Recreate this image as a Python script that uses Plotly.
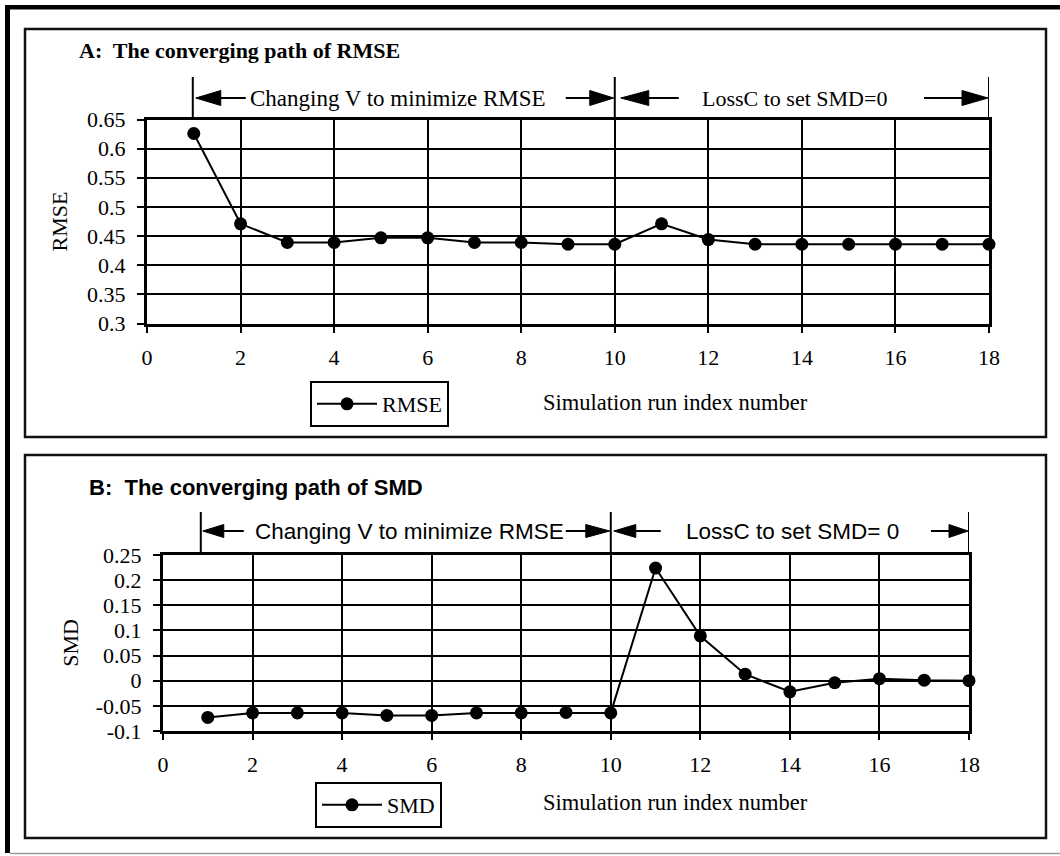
import plotly.graph_objects as go

W, H = 1060, 856

# ---------------- data ----------------
runs = list(range(1, 19))
rmse = [0.626, 0.471, 0.439, 0.439, 0.447, 0.447, 0.439, 0.439, 0.436,
        0.436, 0.471, 0.444, 0.436, 0.436, 0.436, 0.436, 0.436, 0.436]
smd = [-0.073, -0.064, -0.064, -0.064, -0.069, -0.069, -0.064, -0.064, -0.063,
       -0.064, 0.224, 0.089, 0.013, -0.022, -0.004, 0.004, 0.001, 0.0]

x_ticks = [0, 2, 4, 6, 8, 10, 12, 14, 16, 18]
x_tick_labels = ["0", "2", "4", "6", "8", "10", "12", "14", "16", "18"]
rmse_ticks = [0.3, 0.35, 0.4, 0.45, 0.5, 0.55, 0.6, 0.65]
rmse_tick_labels = ["0.3", "0.35", "0.4", "0.45", "0.5", "0.55", "0.6", "0.65"]
smd_ticks = [-0.1, -0.05, 0, 0.05, 0.1, 0.15, 0.2, 0.25]
smd_tick_labels = ["-0.1", "-0.05", "0", "0.05", "0.1", "0.15", "0.2", "0.25"]

SERIF = "Liberation Serif, Times New Roman, serif"
SANS = "Liberation Sans, Arial, sans-serif"


def fx(p):
    return p / W


def fy(p):
    return 1 - p / H


fig = go.Figure()

fig.add_trace(go.Scatter(
    x=runs, y=rmse, name="RMSE", mode="lines+markers",
    line=dict(color="black", width=2), marker=dict(color="black", size=13),
    cliponaxis=False, xaxis="x", yaxis="y", legend="legend"))
fig.add_trace(go.Scatter(
    x=runs, y=smd, name="SMD", mode="lines+markers",
    line=dict(color="black", width=2), marker=dict(color="black", size=13),
    cliponaxis=False, xaxis="x2", yaxis="y2", legend="legend2"))

common_x = dict(range=[0, 18], tickmode="array", tickvals=x_ticks, ticktext=x_tick_labels,
                ticks="outside", ticklen=6, tickwidth=2, tickcolor="black",
                showgrid=True, gridcolor="black", gridwidth=2,
                showline=True, linecolor="black", linewidth=3, mirror=True,
                zeroline=False, tickfont=dict(family=SERIF, size=22, color="black"),
                ticklabelstandoff=6, fixedrange=True, automargin=False)
common_y = dict(tickmode="array", ticks="outside", ticklen=7, tickwidth=2, tickcolor="black",
                showgrid=True, gridcolor="black", gridwidth=2,
                showline=True, linecolor="black", linewidth=3, mirror=True,
                zeroline=False, tickfont=dict(family=SERIF, size=22, color="black"),
                ticklabelstandoff=7, fixedrange=True, automargin=False)

fig.update_layout(
    width=W, height=H, margin=dict(l=0, r=0, t=0, b=0, pad=0, autoexpand=False),
    paper_bgcolor="white", plot_bgcolor="white",
    xaxis=dict(domain=[fx(147), fx(989)], anchor="y", **common_x),
    yaxis=dict(domain=[fy(323.5), fy(119.5)], anchor="x", range=[0.3, 0.65],
               tickvals=rmse_ticks, ticktext=rmse_tick_labels,
               title=dict(text="RMSE", font=dict(family=SERIF, size=22, color="black"), standoff=14),
               **common_y),
    xaxis2=dict(domain=[fx(163), fx(969)], anchor="y2", **common_x),
    yaxis2=dict(domain=[fy(731), fy(555)], anchor="x2", range=[-0.1, 0.25],
                tickvals=smd_ticks, ticktext=smd_tick_labels,
                title=dict(text="SMD", font=dict(family=SERIF, size=22, color="black"), standoff=12),
                **common_y),
    legend=dict(x=fx(310), y=fy(381), xanchor="left", yanchor="top", itemwidth=60,
                bordercolor="black", borderwidth=2, bgcolor="white",
                font=dict(family=SERIF, size=22, color="black")),
    legend2=dict(x=fx(315), y=fy(782), xanchor="left", yanchor="top", itemwidth=60,
                 bordercolor="black", borderwidth=2, bgcolor="white",
                 font=dict(family=SERIF, size=22, color="black")),
    showlegend=True,
)

shapes = []
# outer frame
shapes.append(dict(type="rect", xref="paper", yref="paper", x0=fx(5), x1=fx(1062), y0=fy(5), y1=fy(9.5),
                   fillcolor="black", opacity=1, line=dict(width=0), layer="above"))
shapes.append(dict(type="rect", xref="paper", yref="paper", x0=fx(5), x1=fx(10), y0=fy(5), y1=fy(853),
                   fillcolor="black", opacity=1, line=dict(width=0), layer="above"))
shapes.append(dict(type="line", xref="paper", yref="paper", x0=fx(10), x1=fx(1060), y0=fy(853.5), y1=fy(853.5),
                   opacity=1, line=dict(color="#9a9a9a", width=1.5), layer="above"))
# panel boxes
shapes.append(dict(type="rect", xref="paper", yref="paper", x0=fx(25), x1=fx(1046), y0=fy(29), y1=fy(437),
                   fillcolor="rgba(0,0,0,0)", opacity=1, line=dict(color="#111", width=2.5), layer="below"))
shapes.append(dict(type="rect", xref="paper", yref="paper", x0=fx(25), x1=fx(1046), y0=fy(455), y1=fy(838),
                   fillcolor="rgba(0,0,0,0)", opacity=1, line=dict(color="#111", width=2.5), layer="below"))


def bar(xr, xval, off, ytop, ybot):
    shapes.append(dict(type="line", xref=xr, xsizemode="pixel", xanchor=xval, x0=off, x1=off,
                       yref="paper", y0=fy(ytop), y1=fy(ybot), opacity=1,
                       line=dict(color="black", width=2)))


def seg(xr, xval, a, b, yp):
    shapes.append(dict(type="line", xref=xr, xsizemode="pixel", xanchor=xval, x0=a, x1=b,
                       yref="paper", y0=fy(yp), y1=fy(yp), opacity=1,
                       line=dict(color="black", width=2)))


def head(xr, xval, tip, base, hh, yp):
    shapes.append(dict(type="path", xref=xr, xsizemode="pixel", xanchor=xval,
                       yref="paper", ysizemode="pixel", yanchor=fy(yp),
                       path=f"M {tip},0 L {base},{hh} L {base},{-hh} Z", opacity=1,
                       fillcolor="black", line=dict(color="black", width=1)))


# panel A annotation arrows
yA = 98
for xv, off in [(1, -1), (10, 0), (18, 0)]:
    bar("x", xv, off, 77, 118)
head("x", 1, 2, 27, 7.5, yA); seg("x", 1, 25, 52, yA)
seg("x", 10, -49, -24, yA); head("x", 10, -1, -25, 7.5, yA)
head("x", 10, 6, 34, 7.5, yA); seg("x", 10, 32, 64, yA)
seg("x", 18, -65, -25, yA); head("x", 18, -1, -27, 7.5, yA)

# panel B annotation arrows
yB = 531
for xv, off in [(1, -7), (10, 0), (18, 0)]:
    bar("x2", xv, off, 512, 553)
head("x2", 1, -5, 16, 6.5, yB); seg("x2", 1, 14, 36, yB)
seg("x2", 10, -45, -24, yB); head("x2", 10, -1, -25, 6.5, yB)
head("x2", 10, 3, 25, 6.5, yB); seg("x2", 10, 23, 50, yB)
seg("x2", 18, -38, -19, yB); head("x2", 18, -1, -20, 6.5, yB)

fig.update_layout(shapes=shapes)

ann = []
ann.append(dict(text="<b>A:\u00a0 The converging path of RMSE</b>", xref="paper", yref="paper",
                x=fx(77), y=fy(51), xanchor="left", yanchor="middle", showarrow=False,
                font=dict(family=SERIF, size=22, color="black")))
ann.append(dict(text="<b>B:\u00a0 The converging path of SMD</b>", xref="paper", yref="paper",
                x=fx(87), y=fy(488), xanchor="left", yanchor="middle", showarrow=False,
                font=dict(family=SANS, size=22, color="black")))
ann.append(dict(text="Changing V to minimize RMSE", xref="paper", yref="paper",
                x=fx(248), y=fy(yA), xanchor="left", yanchor="middle", showarrow=False,
                font=dict(family=SERIF, size=23, color="black")))
ann.append(dict(text="LossC to set SMD=0", xref="paper", yref="paper",
                x=fx(700), y=fy(yA), xanchor="left", yanchor="middle", showarrow=False,
                font=dict(family=SERIF, size=22, color="black")))
ann.append(dict(text="Changing V to minimize RMSE", xref="paper", yref="paper",
                x=fx(253), y=fy(yB), xanchor="left", yanchor="middle", showarrow=False,
                font=dict(family=SANS, size=22.5, color="black")))
ann.append(dict(text="LossC to set SMD= 0", xref="paper", yref="paper",
                x=fx(684), y=fy(yB), xanchor="left", yanchor="middle", showarrow=False,
                font=dict(family=SANS, size=22.5, color="black")))
ann.append(dict(text="Simulation run index number", xref="paper", yref="paper",
                x=fx(541), y=fy(402), xanchor="left", yanchor="middle", showarrow=False,
                font=dict(family=SERIF, size=22.5, color="black")))
ann.append(dict(text="Simulation run index number", xref="paper", yref="paper",
                x=fx(541), y=fy(802), xanchor="left", yanchor="middle", showarrow=False,
                font=dict(family=SERIF, size=22.5, color="black")))
fig.update_layout(annotations=ann)

fig.write_html("out.html", config={"displayModeBar": False},
               post_script="document.body.style.margin='0';document.body.style.overflow='hidden';")
